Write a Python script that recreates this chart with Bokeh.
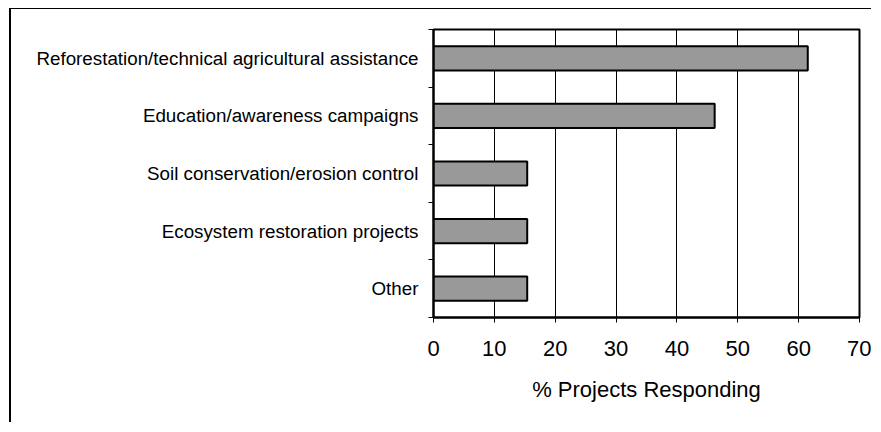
from bokeh.plotting import figure
from bokeh.models import FixedTicker, Range1d
from bokeh.embed import file_html
from bokeh.resources import INLINE

categories = [
    "Reforestation/technical agricultural assistance",
    "Education/awareness campaigns",
    "Soil conservation/erosion control",
    "Ecosystem restoration projects",
    "Other",
]
values = [61.5, 46.2, 15.4, 15.4, 15.4]
x_ticks = [0, 10, 20, 30, 40, 50, 60, 70]
x_label = "% Projects Responding"

n = len(categories)
ypos = [n - i - 0.5 for i in range(n)]
FONT = "Liberation Sans"

p = figure(width=862, height=414, output_backend="svg", toolbar_location=None,
           x_range=Range1d(0, 70), y_range=Range1d(0, n),
           min_border_left=422, min_border_right=14, min_border_top=20, min_border_bottom=106)
p.margin = (8, 0, 0, 9)
p.styles = {"border-left": "2px solid black", "border-top": "1px solid black"}

p.hbar(y=ypos, right=values, left=0, height=0.42, fill_color="#999999",
       line_color="black", line_width=2)

p.outline_line_color = "black"
p.outline_line_width = 2
p.background_fill_color = "white"
p.border_fill_color = "white"

# x axis
p.xaxis.ticker = FixedTicker(ticks=x_ticks)
p.xaxis.axis_line_color = "black"
p.xaxis.axis_line_width = 2
p.xaxis.major_tick_in = 0
p.xaxis.major_tick_out = 5
p.xaxis.major_tick_line_color = "black"
p.xaxis.minor_tick_line_color = None
p.xaxis.major_label_text_font = FONT
p.xaxis.major_label_text_font_size = "22px"
p.xaxis.major_label_text_color = "black"
p.xaxis.major_label_standoff = 18
p.xaxis.axis_label = x_label
p.xaxis.axis_label_text_font = FONT
p.xaxis.axis_label_text_font_size = "22px"
p.xaxis.axis_label_text_font_style = "normal"
p.xaxis.axis_label_text_color = "black"
p.xaxis.axis_label_standoff = 18

# y axis with boundary ticks
p.yaxis.ticker = FixedTicker(ticks=ypos, minor_ticks=list(range(n + 1)))
p.yaxis.major_label_overrides = {y: c for y, c in zip(ypos, categories)}
p.yaxis.axis_line_color = "black"
p.yaxis.axis_line_width = 2
p.yaxis.major_tick_in = 0
p.yaxis.major_tick_out = 0
p.yaxis.minor_tick_in = 0
p.yaxis.minor_tick_out = 5
p.yaxis.minor_tick_line_color = "black"
p.yaxis.major_label_text_font = FONT
p.yaxis.major_label_text_font_size = "18.8px"
p.yaxis.major_label_text_color = "black"
p.yaxis.major_label_standoff = 10

p.xgrid.grid_line_color = "black"
p.xgrid.grid_line_alpha = 1.0
p.xgrid.ticker = FixedTicker(ticks=x_ticks)
p.ygrid.grid_line_color = None

open("out.html", "w").write(file_html(p, INLINE))
